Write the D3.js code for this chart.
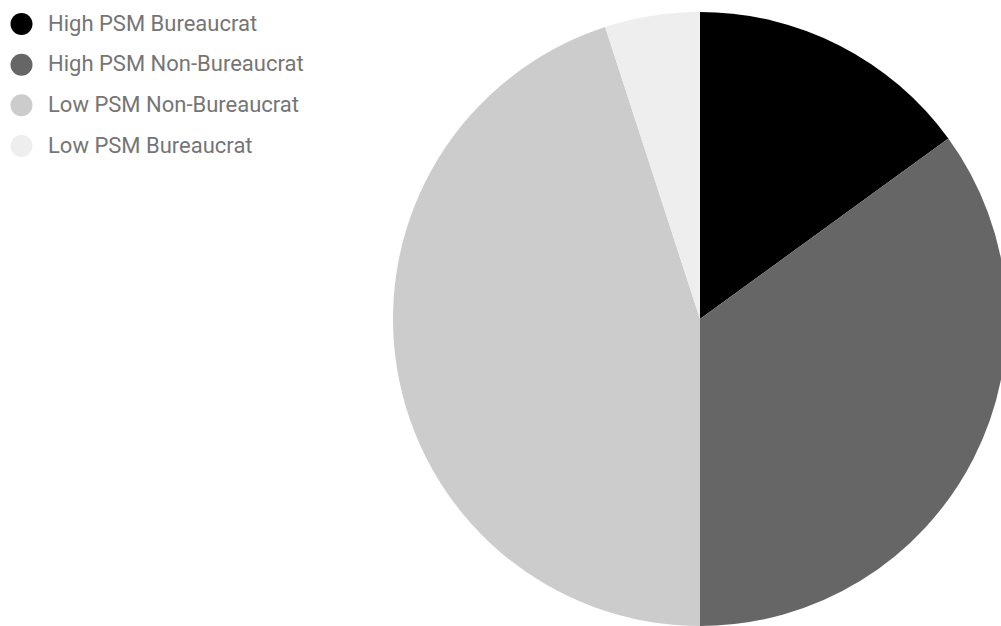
<!DOCTYPE html>
<html>
<head>
<meta charset="utf-8">
<script src="https://cdn.jsdelivr.net/npm/d3@7"></script>
<style>
  html, body { margin: 0; padding: 0; background: #fff; overflow: hidden; }
  svg { display: block; }
</style>
</head>
<body>
<div id="container"></div>
<script>
// categories and their shares (percent)
const categories = [ 'High PSM Bureaucrat', 'High PSM Non-Bureaucrat', 'Low PSM Non-Bureaucrat', 'Low PSM Bureaucrat' ];
const shares = [ 15, 35, 45, 5 ];
const colors = [ '#000000', '#666666', '#cccccc', '#eeeeee' ];

const width = 1001;
const height = 626;
const radius = 307;
const cx = 700, cy = 319;

const svg = d3.select( '#container' ).append( 'svg' )
  .attr( 'width', width )
  .attr( 'height', height );

//_____ PIE _____
const data = categories.map( ( c, i ) => ( { name: c, value: shares[ i ], color: colors[ i ] } ) );

const pie = d3.pie()
  .sort( null )
  .value( d => d.value );

const arc = d3.arc()
  .innerRadius( 0 )
  .outerRadius( radius );

svg.append( 'g' )
  .attr( 'transform', `translate(${cx},${cy})` )
  .selectAll( 'path' )
  .data( pie( data ) )
  .enter().append( 'path' )
  .attr( 'd', arc )
  .attr( 'fill', d => d.data.color );

//_____ LEGEND _____
const legendY = d3.scalePoint()
  .domain( categories )
  .range( [ 24, 146 ] );

const legend = svg.append( 'g' ).attr( 'id', 'legend' );

const item = legend.selectAll( 'g' )
  .data( data )
  .enter().append( 'g' )
  .attr( 'transform', d => `translate(0,${legendY( d.name )})` );

item.append( 'circle' )
  .attr( 'cx', 21.5 )
  .attr( 'cy', 0 )
  .attr( 'r', 11 )
  .attr( 'fill', d => d.color );

item.append( 'text' )
  .attr( 'x', 48 )
  .attr( 'y', 6.5 )
  .style( 'font-family', 'Roboto, sans-serif' )
  .style( 'font-size', '22px' )
  .style( 'fill', '#757575' )
  .text( d => d.name );
</script>
</body>
</html>
